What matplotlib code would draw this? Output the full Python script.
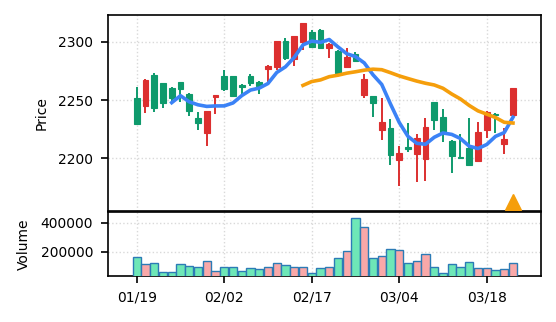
import numpy as np
import pandas as pd
import matplotlib
matplotlib.use('Agg')
import matplotlib.pyplot as plt
from matplotlib.ticker import MultipleLocator

# 行情数据
opens = [2252, 2245, 2271.4, 2264.5, 2260.3, 2265.4, 2255, 2235, 2221.6, 2252.5,
         2270.6, 2270.6, 2263.4, 2270.8, 2265.9, 2276.6, 2278.8, 2300.9, 2285.2, 2300.3,
         2308.3, 2310, 2295.1, 2292.3, 2278.8, 2289.4, 2254.5, 2253.6, 2224.5, 2225.9,
         2198.7, 2210.1, 2203.6, 2199.6, 2248.2, 2235.9, 2215.3, 2201, 2209.3, 2197.9,
         2224.5, 2238.5, 2212.2, 2237.3]
closes = [2230, 2267, 2243, 2247.4, 2252.2, 2259.7, 2240.8, 2230.2, 2240.5, 2254.2,
          2259.9, 2253.4, 2261.6, 2264.5, 2262.5, 2279.7, 2300.6, 2286, 2304.9, 2316.1,
          2296, 2295.1, 2298.3, 2273.1, 2286.9, 2283.7, 2268, 2247.4, 2231.6, 2203,
          2204.5, 2208.2, 2217.9, 2227.3, 2233, 2223, 2202.1, 2200.2, 2194.4, 2223,
          2240.2, 2237, 2216.5, 2260.3]
highs = [2261, 2268, 2273, 2265, 2261, 2266, 2256, 2239.7, 2241, 2254.5,
         2276, 2271, 2264, 2272.3, 2266.5, 2280, 2301, 2303.2, 2305.5, 2316.5,
         2310.6, 2311.2, 2299, 2292.8, 2294.6, 2291.2, 2272.3, 2254, 2251.7, 2233.6,
         2210.7, 2230.2, 2220.8, 2234.5, 2248.5, 2242.2, 2215.5, 2221, 2234.5, 2231.1,
         2241, 2239, 2226.4, 2260.5]
lows = [2230, 2239, 2240, 2243.6, 2248.5, 2248.2, 2236.7, 2224.5, 2211, 2238,
        2258, 2252.5, 2254.5, 2262.5, 2255, 2266, 2276, 2284.5, 2279.7, 2293.1,
        2295.5, 2294.5, 2286.5, 2272.6, 2277.4, 2283.2, 2251.7, 2235.9, 2215.9, 2194.4,
        2176.7, 2205.3, 2180.1, 2181, 2224.5, 2213.9, 2187.3, 2200, 2194, 2197.5,
        2217.3, 2222, 2203.6, 2237]
volumes = [160600, 111300, 118300, 59200, 59200, 115500, 97200, 90100, 132400, 66200,
           90100, 90100, 62000, 83100, 76100, 90100, 118300, 103000, 90100, 90100,
           52100, 83100, 90100, 153500, 202800, 435200, 371800, 153500, 167600, 216900,
           209900, 118300, 132400, 181700, 90100, 47900, 111300, 90100, 125400, 83100,
           83100, 69000, 76100, 118300]
tick_idx = [0, 10, 20, 30, 40]
tick_labels = ['01/19', '02/02', '02/17', '03/04', '03/18']
signal_idx = 43
signal_price = 2163

UP = '#dc2f2f'
DOWN = '#0e9a6c'


def main():
    df = pd.DataFrame({'open': opens, 'close': closes, 'high': highs,
                       'low': lows, 'volume': volumes})
    df['ma5'] = df['close'].rolling(5).mean()
    df['ma20'] = df['close'].rolling(20).mean()
    x = np.arange(len(df))
    up = df['close'] >= df['open']

    fig = plt.figure(figsize=(5.56, 3.22), dpi=100)
    ax = fig.add_axes([0.194, 0.345, 0.779, 0.608])
    axv = fig.add_axes([0.194, 0.143, 0.779, 0.200], sharex=ax)

    # K线
    colors = np.where(up, UP, DOWN)
    ax.vlines(x, df['low'], df['high'], colors=colors, linewidth=1.4, zorder=2)
    body_bottom = np.minimum(df['open'], df['close'])
    body_h = np.maximum(np.abs(df['close'] - df['open']), 0.6)
    ax.bar(x, body_h, bottom=body_bottom, width=0.68, color=colors,
           edgecolor=colors, linewidth=0.8, zorder=3)

    # 均线
    ax.plot(x, df['ma5'], color='#3b82f6', linewidth=2.6, zorder=4)
    ax.plot(x, df['ma20'], color='#f59e0b', linewidth=2.6, zorder=4)
    ax.plot([signal_idx], [signal_price], marker='^', color='#f59e0b',
            markersize=12, linestyle='none', zorder=5)

    ax.set_ylim(2155, 2323)
    ax.yaxis.set_major_locator(MultipleLocator(50))
    ax.set_ylabel('Price', labelpad=7)
    ax.grid(True, linestyle=':', color='#d9d9d9', linewidth=1)
    ax.tick_params(axis='x', bottom=False, labelbottom=False)

    # 成交量
    vcolors = np.where(up, '#f9a8a8', '#6ee7b7')
    axv.bar(x, df['volume'], width=0.92, color=vcolors,
            edgecolor='#2c7bb6', linewidth=1.0, zorder=3)
    axv.set_ylim(29000, 480000)
    axv.set_yticks([200000, 400000])
    axv.set_yticklabels(['200000', '400000'])
    axv.set_ylabel('Volume', labelpad=7)
    axv.grid(True, linestyle=':', color='#d9d9d9', linewidth=1)

    axv.set_xticks(tick_idx)
    axv.set_xticklabels(tick_labels)
    axv.set_xlim(-3.3, 46.2)

    for a in (ax, axv):
        a.tick_params(length=5, pad=5.5, width=1.2)
        for s in a.spines.values():
            s.set_linewidth(1.2)

    fig.savefig('out.png', dpi=100)


if __name__ == "__main__":
    main()
